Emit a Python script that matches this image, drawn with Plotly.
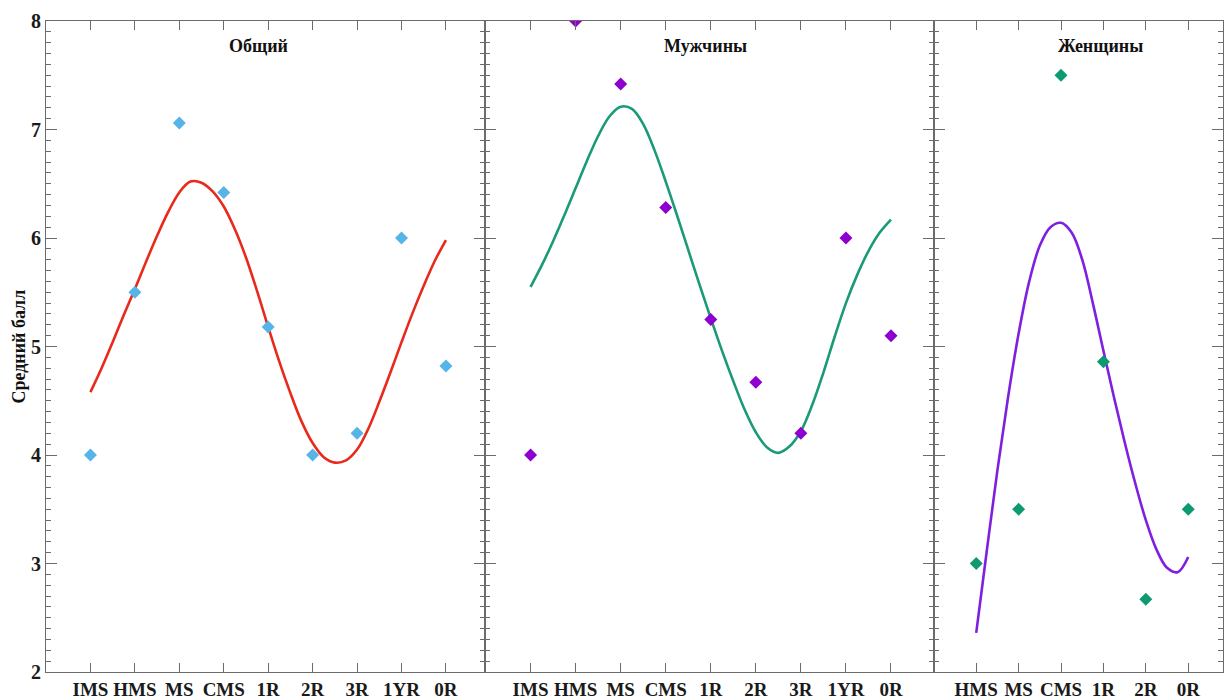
import plotly.graph_objects as go

# ---------------- data ----------------
cats_all = ["IMS", "HMS", "MS", "CMS", "1R", "2R", "3R", "1YR", "0R"]
cats_f = ["HMS", "MS", "CMS", "1R", "2R", "0R"]

total_vals = [4.0, 5.5, 7.06, 6.42, 5.18, 4.0, 4.2, 6.0, 4.82]
men_vals = [4.0, 8.0, 7.42, 6.28, 5.25, 4.67, 4.2, 6.0, 5.1]
women_vals = [3.0, 3.5, 7.5, 4.86, 2.67, 3.5]

# fitted curves (position in category units, value)
total_fit_pos = [1, 1.25, 1.5, 1.75, 2, 2.25, 2.5, 2.75, 3, 3.25, 3.5, 3.75, 4, 4.25, 4.5, 4.75,
                 5, 5.25, 5.5, 5.75, 6, 6.25, 6.5, 6.75, 7, 7.25, 7.5, 7.75, 8, 8.25, 8.5, 8.75, 9]
total_fit_val = [4.58, 4.80, 5.04, 5.29, 5.53, 5.78, 6.02, 6.24, 6.42, 6.52, 6.51, 6.43, 6.29, 6.08, 5.82, 5.51,
                 5.18, 4.86, 4.57, 4.31, 4.11, 3.98, 3.93, 3.95, 4.05, 4.24, 4.49, 4.76, 5.04, 5.31, 5.56, 5.79, 5.98]

men_fit_pos = [1, 1.25, 1.5, 1.75, 2, 2.25, 2.5, 2.75, 3, 3.25, 3.5, 3.75, 4, 4.25, 4.5, 4.75,
               5, 5.25, 5.5, 5.75, 6, 6.25, 6.5, 6.75, 7, 7.25, 7.5, 7.75, 8, 8.25, 8.5, 8.75, 9]
men_fit_val = [5.55, 5.75, 5.97, 6.21, 6.46, 6.71, 6.94, 7.12, 7.21, 7.19, 7.05, 6.81, 6.52, 6.21, 5.89, 5.57,
               5.26, 4.96, 4.68, 4.42, 4.21, 4.07, 4.02, 4.08, 4.22, 4.46, 4.76, 5.09, 5.40, 5.66, 5.88, 6.05, 6.17]

women_fit_pos = [1, 1.25, 1.5, 1.75, 2, 2.25, 2.5, 2.75, 3, 3.25, 3.5, 3.75, 4, 4.25, 4.5, 4.75,
                 5, 5.25, 5.5, 5.75, 6]
women_fit_val = [2.36, 3.12, 3.86, 4.53, 5.12, 5.6, 5.93, 6.1, 6.14, 6.05, 5.8, 5.4, 4.96, 4.53, 4.12, 3.74,
                 3.4, 3.13, 2.96, 2.92, 3.06]

titles = ["Общий", "Мужчины", "Женщины"]
y_title = "Средний балл"

# ---------------- style ----------------
FONT = "Liberation Serif, Times New Roman, serif"
W, H = 1224, 700
ML, MR, MT, MB = 46, 0, 21, 21
pw = W - ML - MR
d1 = (485 - ML) / pw
d2 = (935 - ML) / pw

fig = go.Figure()

panels = [
    dict(cats=cats_all, vals=total_vals, fp=total_fit_pos, fv=total_fit_val,
         pc="#56B4E9", lc="#E8291C", xa="x", ya="y"),
    dict(cats=cats_all, vals=men_vals, fp=men_fit_pos, fv=men_fit_val,
         pc="#8E00D0", lc="#1A9A78", xa="x2", ya="y2"),
    dict(cats=cats_f, vals=women_vals, fp=women_fit_pos, fv=women_fit_val,
         pc="#0E9A70", lc="#7F1FDF", xa="x3", ya="y3"),
]

for p in panels:
    pos = list(range(1, len(p["cats"]) + 1))
    fig.add_trace(go.Scatter(x=p["fp"], y=p["fv"], mode="lines",
                             line=dict(color=p["lc"], width=2.6, shape="spline", smoothing=1.0),
                             xaxis=p["xa"], yaxis=p["ya"], showlegend=False, hoverinfo="skip"))
    fig.add_trace(go.Scatter(x=pos, y=p["vals"], mode="markers",
                             marker=dict(symbol="diamond", size=10, color=p["pc"]),
                             xaxis=p["xa"], yaxis=p["ya"], showlegend=False))

axis_common = dict(showline=True, linecolor="#6b6b6b", linewidth=1.2, mirror="ticks",
                   ticks="inside", tickcolor="#6b6b6b", showgrid=False, zeroline=False)

domains = [[0, d1], [d1, d2], [d2, 1]]
xranges = [[0, 9.87], [-0.02, 9.96], [0.01, 6.82]]
xtick_font = dict(family=FONT, size=19, color="#1a1a1a", weight="bold")
ytick_font = dict(family=FONT, size=20, color="#1a1a1a", weight="bold")

for i, p in enumerate(panels):
    sfx = "" if i == 0 else str(i + 1)
    pos = list(range(1, len(p["cats"]) + 1))
    fig.layout["xaxis" + sfx] = dict(
        axis_common, domain=domains[i], range=xranges[i], tickvals=pos,
        ticktext=p["cats"], ticklen=9, tickwidth=1.2, tickfont=xtick_font,
        anchor="y" + sfx)
    fig.layout["yaxis" + sfx] = dict(
        axis_common, range=[2, 8], dtick=1, ticklen=11, tickwidth=1.2,
        tickfont=ytick_font, showticklabels=(i == 0), anchor="x" + sfx,
        minor=dict(dtick=0.1, ticks="inside", ticklen=5, tickcolor="#6b6b6b", tickwidth=1))

title_pos = [(4.78, "x", "y"), (4.88, "x2", "y2"), (3.92, "x3", "y3")]
for t, (xp, xr, yr) in zip(titles, title_pos):
    fig.add_annotation(x=xp, y=7.77, xref=xr, yref=yr, text=t, showarrow=False,
                       font=dict(family=FONT, size=18, color="#111111", weight="bold"))

fig.add_annotation(x=(18 - ML) / pw, y=0.5, xref="paper", yref="paper", text=y_title,
                   textangle=-90, showarrow=False, xanchor="center", yanchor="middle",
                   font=dict(family=FONT, size=18, color="#111111", weight="bold"))

fig.update_layout(width=W, height=H, margin=dict(l=ML, r=MR, t=MT, b=MB),
                  plot_bgcolor="white", paper_bgcolor="white")

fig.write_html("out.html")
